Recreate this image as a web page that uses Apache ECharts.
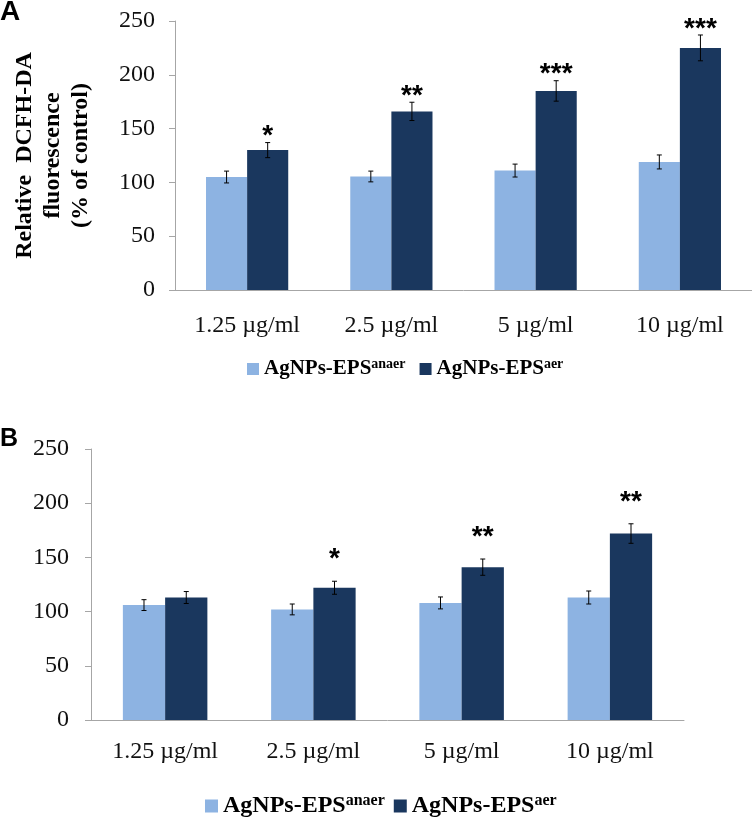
<!DOCTYPE html>
<html>
<head>
<meta charset="utf-8">
<script src="https://cdn.jsdelivr.net/npm/echarts@6/dist/echarts.min.js"></script>
<style>
  html, body { margin: 0; padding: 0; background: #fff; }
  #chart { width: 752px; height: 818px; }
</style>
</head>
<body>
<div id="chart"></div>
<script>
  // doses on the x axis
  var categories = ['1.25 µg/ml', '2.5 µg/ml', '5 µg/ml', '10 µg/ml'];
  var yTicks = [0, 50, 100, 150, 200, 250];

  // panel A
  var anaerA = [105, 105.5, 111, 119];
  var anaerErrA = [5.5, 5, 6, 6.5];
  var aerA = [130, 166, 185, 225];
  var aerErrA = [7, 8.5, 9.5, 12];
  var starsA = ['*', '**', '***', '***'];

  // panel B
  var anaerB = [106, 102, 108, 113];
  var anaerErrB = [5, 5, 5.5, 6];
  var aerB = [113, 122, 141, 172];
  var aerErrB = [5.5, 6, 7.5, 9];
  var starsB = ['', '*', '**', '**'];

  var LIGHT = '#8db3e2';
  var DARK = '#1a375e';
  var SERIF = '"Liberation Serif", "Times New Roman", serif';
  var SANS = '"Liberation Sans", Arial, sans-serif';

  var chart = echarts.init(document.getElementById('chart'));

  function errSeries(vals, errs, stars, side, axis, starGap) {
    return {
      type: 'custom',
      xAxisIndex: axis,
      yAxisIndex: axis,
      z: 5,
      silent: true,
      data: vals.map(function (v, i) { return [i, v, errs[i]]; }),
      renderItem: function (params, api) {
        var i = api.value(0), v = api.value(1), e = api.value(2);
        var band = api.size([1, 0])[0];
        var cx = api.coord([i, v])[0] + side * band * 0.285 / 2;
        var top = api.coord([i, v + e])[1];
        var bot = api.coord([i, v - e])[1];
        var st = { stroke: '#000', lineWidth: 1 };
        var kids = [
          { type: 'line', shape: { x1: cx, y1: top, x2: cx, y2: bot }, style: st },
          { type: 'line', shape: { x1: cx - 2.5, y1: top, x2: cx + 2.5, y2: top }, style: st },
          { type: 'line', shape: { x1: cx - 2.5, y1: bot, x2: cx + 2.5, y2: bot }, style: st }
        ];
        var s = stars ? stars[params.dataIndex] : '';
        if (s) {
          kids.push({
            type: 'text',
            style: {
              text: s, x: cx, y: top - starGap,
              align: 'center', verticalAlign: 'middle',
              fontSize: 28, fontWeight: 'bold', fontFamily: SANS, fill: '#000'
            }
          });
        }
        return { type: 'group', children: kids };
      }
    };
  }

  function legendFmt(n) {
    return '{m|AgNPs-EPS}{s|' + n.slice(9) + '}';
  }

  var yAxisBase = {
    type: 'value', min: 0, max: 250, interval: 50,
    axisLine: { show: true, lineStyle: { color: '#a6a6a6' } },
    axisTick: { show: true, length: 6, lineStyle: { color: '#a6a6a6' } },
    splitLine: { show: false },
    axisLabel: { fontFamily: SERIF, fontSize: 24, color: '#111', margin: 20,
      formatter: function (v) { return yTicks.indexOf(v) >= 0 ? String(v) : ''; } }
  };

  var option = {
    animation: false,
    backgroundColor: '#fff',
    graphic: [
      { type: 'text', left: 0, top: -2, style: { text: 'A', font: 'bold 28px ' + SANS, fill: '#000' } },
      { type: 'text', left: 0, top: 427, style: { text: 'B', font: 'bold 25px ' + SANS, fill: '#000' } }
    ],
    legend: [
      {
        left: 242, top: 352, itemWidth: 12, itemHeight: 12, itemGap: 14,
        icon: 'rect', data: ['AgNPs-EPSanaer', 'AgNPs-EPSaer'],
        formatter: legendFmt,
        textStyle: {
          rich: {
            m: { fontFamily: SERIF, fontSize: 21, fontWeight: 'bold', color: '#000', lineHeight: 24 },
            s: { fontFamily: SERIF, fontSize: 14, fontWeight: 'bold', color: '#000', verticalAlign: 'top' }
          }
        }
      },
      {
        left: 200, top: 788, itemWidth: 13, itemHeight: 13, itemGap: 9,
        icon: 'rect', data: ['AgNPs-EPSanaer', 'AgNPs-EPSaer'],
        formatter: legendFmt,
        textStyle: {
          rich: {
            m: { fontFamily: SERIF, fontSize: 24, fontWeight: 'bold', color: '#000', lineHeight: 26 },
            s: { fontFamily: SERIF, fontSize: 16, fontWeight: 'bold', color: '#000', verticalAlign: 'top' }
          }
        }
      }
    ],
    grid: [
      { left: 175, top: 21, width: 577, height: 269 },
      { left: 91, top: 449, width: 593, height: 271 }
    ],
    xAxis: [0, 1].map(function (g) {
      return {
        type: 'category', gridIndex: g, data: categories,
        axisLine: { lineStyle: { color: '#a6a6a6' } },
        axisTick: { show: false },
        axisLabel: { fontFamily: SERIF, fontSize: 24, color: '#111', margin: g === 0 ? 24 : 20 }
      };
    }),
    yAxis: [
      Object.assign({}, yAxisBase, {
        gridIndex: 0,
        name: 'Relative  DCFH-DA\nfluorescence\n(% of control)',
        nameLocation: 'middle', nameGap: 80,
        nameTextStyle: { fontFamily: SERIF, fontSize: 24, fontWeight: 'bold', color: '#000', lineHeight: 28 }
      }),
      Object.assign({}, yAxisBase, { gridIndex: 1, axisLabel: Object.assign({}, yAxisBase.axisLabel, { margin: 22 }) })
    ],
    series: [
      { name: 'AgNPs-EPSanaer', type: 'bar', xAxisIndex: 0, yAxisIndex: 0, data: anaerA,
        itemStyle: { color: LIGHT }, barWidth: '28.5%', barGap: 0 },
      { name: 'AgNPs-EPSaer', type: 'bar', xAxisIndex: 0, yAxisIndex: 0, data: aerA,
        itemStyle: { color: DARK }, barWidth: '28.5%', barGap: 0 },
      { name: 'AgNPs-EPSanaer', type: 'bar', xAxisIndex: 1, yAxisIndex: 1, data: anaerB,
        itemStyle: { color: LIGHT }, barWidth: '28.5%', barGap: 0 },
      { name: 'AgNPs-EPSaer', type: 'bar', xAxisIndex: 1, yAxisIndex: 1, data: aerB,
        itemStyle: { color: DARK }, barWidth: '28.5%', barGap: 0 },
      errSeries(anaerA, anaerErrA, null, -1, 0, 0),
      errSeries(aerA, aerErrA, starsA, 1, 0, 6),
      errSeries(anaerB, anaerErrB, null, -1, 1, 0),
      errSeries(aerB, aerErrB, starsB, 1, 1, 22)
    ]
  };

  chart.setOption(option);
</script>
</body>
</html>
